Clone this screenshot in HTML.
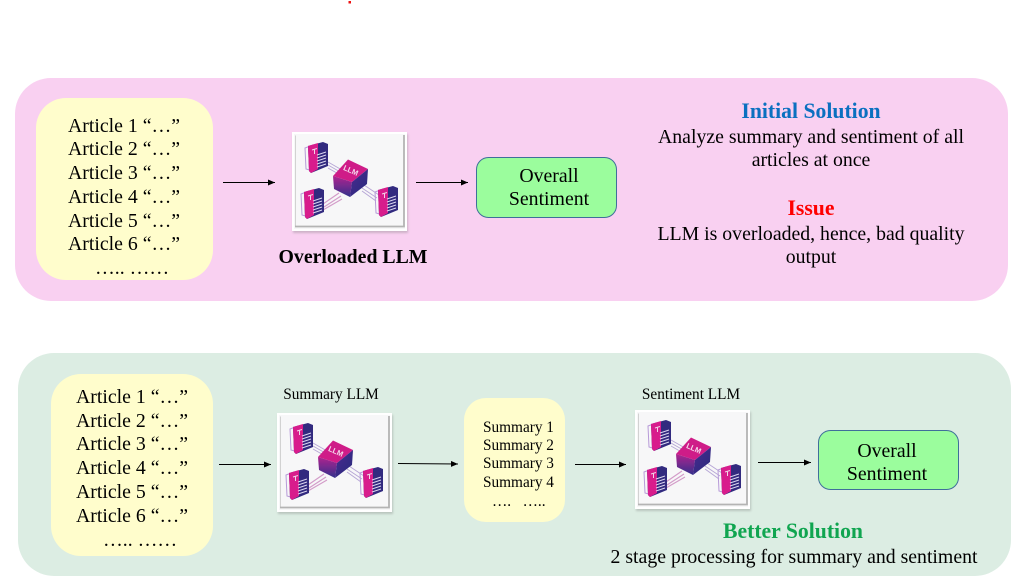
<!DOCTYPE html>
<html>
<head>
<meta charset="utf-8">
<style>
html,body{margin:0;padding:0;background:#fff}
svg{display:block}
text{font-family:"Liberation Serif",serif;fill:#000}
.a{font-size:19.8px}
.s{font-size:15.3px}
.m{text-anchor:middle}
.b{font-weight:bold}
.h{font-size:21.700px;font-weight:bold}
</style>
</head>
<body>
<svg width="1024" height="588" viewBox="0 0 1024 588" xmlns="http://www.w3.org/2000/svg">
<defs>
<marker id="ar" markerWidth="8" markerHeight="6" refX="7" refY="3" orient="auto" markerUnits="userSpaceOnUse"><path d="M0 0L7 3L0 6Z" fill="#000"/></marker>
<linearGradient id="cube" x1="0" y1="0" x2="0" y2="1"><stop offset="0" stop-color="#b0248f"/><stop offset="1" stop-color="#33308c"/></linearGradient>
<linearGradient id="cube2" x1="0" y1="0" x2="1" y2="1"><stop offset="0" stop-color="#4a2c90"/><stop offset="1" stop-color="#27287c"/></linearGradient>
<filter id="bl" x="-5%" y="-5%" width="110%" height="110%"><feGaussianBlur stdDeviation="0.35"/></filter>
<filter id="ds" x="-5%" y="-5%" width="110%" height="110%"><feGaussianBlur stdDeviation="1"/></filter>
<g id="doc">
<path d="M0 5L8 2V28L1 26Z" fill="none" stroke="#b79ad8" stroke-width="1"/>
<path d="M3 3L18 -1L23 1V23L6 30L4 28Z" fill="#30297f"/>
<path d="M3 3L13 0V26L6 30L4 28Z" fill="#d81e8c"/>
<path d="M7 7L12 5.500M9.500 6.500V11" stroke="#f0d5e8" stroke-width="1" fill="none"/>
<path d="M12 12L21 9M12 15L21 12M12 18L21 15M12 21L21 18M12 24L21 21" stroke="#dcd7f0" stroke-width="1"/>
</g>
<g id="icon">
<rect x="1" y="2" width="115" height="99" fill="#777" opacity=".35" filter="url(#ds)"/>
<rect x="0" y="0" width="115" height="99" fill="#f7f7f8"/>
<rect x="1" y="1" width="113" height="97" fill="none" stroke="#fff" stroke-width="2"/>
<path d="M3.500 94.500V3.500" fill="none" stroke="#d2d2d2" stroke-width="1"/>
<path d="M3 94.500H112V3" fill="none" stroke="#b4b4b4" stroke-width="1.800"/>
<g filter="url(#bl)">
<path d="M36 33L50 41M36 36L50 44M36 30L50 38" stroke="#b7a7d6" stroke-width="1"/>
<path d="M31 72L47 61M32 75L49 64M31 78L50 67" stroke="#d39cc9" stroke-width="1.200"/>
<path d="M70 56L85 66M70 59L84 69M72 53L87 63" stroke="#b7a7d6" stroke-width="1"/>
<use href="#doc" x="13" y="11"/>
<use href="#doc" x="9" y="57"/>
<use href="#doc" x="83" y="55"/>
<path d="M41 44L56 27.500L76 37L60 50Z" fill="#cf1f88"/>
<path d="M41 44L60 50L58 65L42 57Z" fill="url(#cube)"/>
<path d="M60 50L76 37L75 52L58 65Z" fill="url(#cube2)"/>
<text x="59" y="41" text-anchor="middle" transform="rotate(24 59 38)" style="font-family:'Liberation Sans',sans-serif;font-size:7.500px;font-weight:bold;fill:#f4d9ec">LLM</text>
</g>
</g>
</defs>

<rect x="0" y="0" width="1024" height="588" fill="#fff"/>
<rect x="348.500" y="1" width="2.500" height="2.500" fill="#ee1111"/>

<rect x="15" y="78" width="993" height="223" rx="36" fill="#f9d0f1"/>
<rect x="36" y="98" width="177" height="182" rx="30" fill="#fffdcc"/>
<g class="a">
<text x="68" y="132">Article 1 “…”</text>
<text x="68" y="155">Article 2 “…”</text>
<text x="68" y="179">Article 3 “…”</text>
<text x="68" y="203">Article 4 “…”</text>
<text x="68" y="227">Article 5 “…”</text>
<text x="68" y="250">Article 6 “…”</text>
<text x="95" y="274">….. ……</text>
</g>
<line x1="223" y1="182.500" x2="275" y2="182.500" stroke="#000" stroke-width="1" marker-end="url(#ar)"/>
<use href="#icon" x="292" y="132"/>
<line x1="416" y1="182.500" x2="468" y2="182.500" stroke="#000" stroke-width="1" marker-end="url(#ar)"/>
<rect x="476.500" y="157.500" width="140" height="60" rx="12" fill="#9bfd9d" stroke="#3f6f9a" stroke-width="1"/>
<text class="a m" x="549" y="182">Overall</text>
<text class="a m" x="549" y="205">Sentiment</text>
<text class="a m b" x="353" y="263">Overloaded LLM</text>

<text class="m h" x="811" y="118" style="fill:#0b70c0">Initial Solution</text>
<text class="a m" x="811" y="143">Analyze summary and sentiment of all</text>
<text class="a m" x="811" y="166">articles at once</text>
<text class="m h" x="811" y="215" style="fill:#ff0000">Issue</text>
<text class="a m" x="811" y="240">LLM is overloaded, hence, bad quality</text>
<text class="a m" x="811" y="263">output</text>

<rect x="18" y="353" width="993" height="223" rx="36" fill="#dcede3"/>
<rect x="51" y="374" width="162" height="182" rx="30" fill="#fffdcc"/>
<g class="a">
<text x="76" y="403">Article 1 “…”</text>
<text x="76" y="427">Article 2 “…”</text>
<text x="76" y="450">Article 3 “…”</text>
<text x="76" y="474">Article 4 “…”</text>
<text x="76" y="498">Article 5 “…”</text>
<text x="76" y="522">Article 6 “…”</text>
<text x="103" y="546">….. ……</text>
</g>
<line x1="219" y1="464.500" x2="271" y2="464.500" stroke="#000" stroke-width="1" marker-end="url(#ar)"/>
<use href="#icon" x="277" y="413"/>
<text class="s m" x="331" y="399">Summary LLM</text>
<line x1="398" y1="463.500" x2="458" y2="464" stroke="#000" stroke-width="1" marker-end="url(#ar)"/>
<rect x="464" y="398" width="101" height="124" rx="22" fill="#fffdcc"/>
<g class="s">
<text x="483" y="432">Summary 1</text>
<text x="483" y="450">Summary 2</text>
<text x="483" y="468">Summary 3</text>
<text x="483" y="487">Summary 4</text>
<text x="492" y="506">….&#160;&#160; …..</text>
</g>
<line x1="575" y1="464.500" x2="626" y2="464.500" stroke="#000" stroke-width="1" marker-end="url(#ar)"/>
<use href="#icon" x="635" y="410"/>
<text class="s m" x="691" y="399">Sentiment LLM</text>
<line x1="758" y1="462.500" x2="811" y2="462.500" stroke="#000" stroke-width="1" marker-end="url(#ar)"/>
<rect x="818.500" y="430.500" width="140" height="59" rx="12" fill="#9bfd9d" stroke="#3f6f9a" stroke-width="1"/>
<text class="a m" x="887" y="457">Overall</text>
<text class="a m" x="887" y="480">Sentiment</text>
<text class="m h" x="793" y="538" style="fill:#10a550">Better Solution</text>
<text class="a m" x="794" y="563">2 stage processing for summary and sentiment</text>
</svg>
</body>
</html>
